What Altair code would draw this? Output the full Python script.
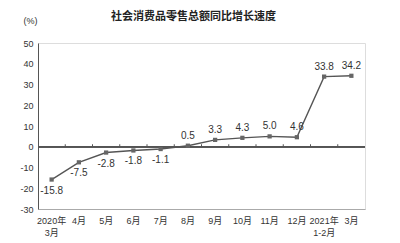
import altair as alt
import pandas as pd

months = ["2020年\n3月", "4月", "5月", "6月", "7月", "8月", "9月", "10月", "11月", "12月", "2021年\n1-2月", "3月"]
growth = [-15.8, -7.5, -2.8, -1.8, -1.1, 0.5, 3.3, 4.3, 5.0, 4.6, 33.8, 34.2]
y_ticks = [-30, -20, -10, 0, 10, 20, 30, 40, 50]
title_text = "社会消费品零售总额同比增长速度"

df = pd.DataFrame({"month": months, "growth": growth,
                   "label": [f"{v:.1f}" for v in growth]})

FONT = "Liberation Sans, Noto Sans CJK SC"

xs = alt.Scale(type="band", paddingInner=0, paddingOuter=0)
ys = alt.Scale(domain=[-30, 50], nice=False)

x_axis = alt.Axis(labelExpr="split(datum.label, '\\n')", labelAngle=0,
                  ticks=False, labelPadding=7, labelFontSize=9, bandPosition=0.5,
                  labelColor="#333", domainColor="#aaa", labelFont=FONT,
                  labelLineHeight=12, labelOverlap=False, title=None)
y_axis = alt.Axis(values=y_ticks, grid=False, ticks=False, labelPadding=5,
                  labelFontSize=9, labelColor="#333", domainColor="#555",
                  labelFont=FONT, title="(%)", titleAngle=0, titleX=-8, titleY=-18,
                  titleFontSize=9, titleFontWeight="normal", titleColor="#333",
                  titleFont=FONT, titleAlign="center", labelOverlap=False,
                  labelExpr="replace(datum.label, '−', '-')")

xp = alt.X("month:N", sort=months, scale=xs, axis=x_axis)
yp = alt.Y("growth:Q", scale=ys, axis=y_axis)
y0 = alt.YDatum(0, scale=ys, axis=y_axis)

base = alt.Chart(df)

line = base.mark_line(color="#555", strokeWidth=1.4).encode(x=xp, y=yp)
zero = base.mark_rule(color="#555", strokeWidth=1).encode(y=y0)
zticks = base.transform_filter(alt.datum.growth > -15).mark_rule(
    color="#555", strokeWidth=1).encode(
    x=alt.X("month:N", sort=months, scale=xs, bandPosition=0, axis=x_axis),
    y=y0, y2=alt.datum(1.2))

pts = base.mark_point(shape="square", filled=True, size=18, color="#666", opacity=1).encode(
    x=xp, y=yp)

neg = base.transform_filter(alt.datum.growth < 0).mark_text(
    dy=11, fontSize=10, color="#333", font=FONT).encode(x=xp, y=yp, text="label:N")
pos = base.transform_filter(alt.datum.growth >= 0).mark_text(
    dy=-10, fontSize=10, color="#333", font=FONT).encode(x=xp, y=yp, text="label:N")

chart = alt.layer(line, zero, zticks, pts, neg, pos).properties(
    width=327, height=166,
    title=alt.TitleParams(title_text, fontSize=11, font="Noto Sans CJK SC",
                          fontWeight="bold", color="#222", offset=0, dy=6, dx=-8),
    autosize=alt.AutoSizeParams(type="none"),
    padding={"left": 38, "top": 43, "right": 35, "bottom": 34},
).configure_view(stroke="#aaa", strokeWidth=1).configure(background="white")

chart.save("out.html", embed_options={"renderer": "svg", "actions": False})
